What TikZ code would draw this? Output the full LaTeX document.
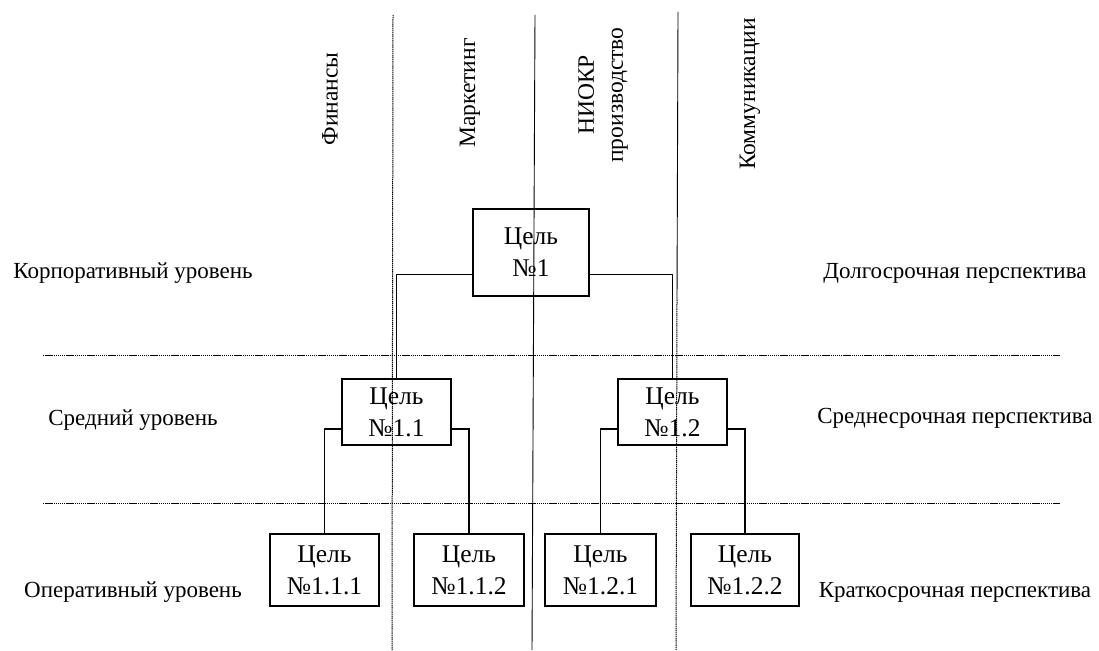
\documentclass[tikz,border=0pt]{standalone}
\usepackage{fontspec}
\setmainfont{Liberation Serif}
\usetikzlibrary{positioning}

\begin{document}
\begin{tikzpicture}[x=1pt, y=-1pt,
	goal/.style={draw, line width=2pt, align=center, inner sep=0pt, font=\fontsize{25.5}{32}\selectfont},
	lbl/.style={font=\fontsize{23}{27}\selectfont},
	head/.style={rotate=90, align=center, font=\fontsize{23.5}{29}\selectfont},
	guide/.style={line width=1pt, dash pattern=on 1.4pt off 0.7pt},
	link/.style={line width=1.8pt}]
	\useasboundingbox (0,0) rectangle (1099,650);
	\draw [guide] (43,355) -- (1060,355) (43,503) -- (1060,503);
	\draw [guide] (393,15) -- (392,650);
	\draw [line width=0.9pt] (678,12) -- (677,300);
	\draw [guide] (677,300) -- (676,650);
	\draw [line width=0.9pt] (535,15) -- (532,650);
	\node [head] (fin) at (330,99) {Финансы};
	\node [head] (mark) at (470,93) {Маркетинг};
	\node [head] (niokr) at (603,95) {НИОКР\\производство};
	\node [head] (comm) at (750,94) {Коммуникации};
	\node [lbl] (corp) at (133,273) {Корпоративный уровень};
	\node [lbl] (mid) at (133,420) {Средний уровень};
	\node [lbl] (oper) at (133,592) {Оперативный уровень};
	\node [lbl] (long) at (955,273) {Долгосрочная перспектива};
	\node [lbl] (midt) at (955,418) {Среднесрочная перспектива};
	\node [lbl] (short) at (955,592) {Краткосрочная перспектива};
	\node [goal, minimum width=116pt, minimum height=87pt] (g1) at (531,252.5) {Цель\\№1};
	\node [goal, minimum width=109pt, minimum height=66pt] (g11) at (396.5,412) {Цель\\№1.1};
	\node [goal, minimum width=109pt, minimum height=66pt] (g12) at (672.5,412) {Цель\\№1.2};
	\node [goal, minimum width=109pt, minimum height=72pt] (g111) at (324.5,570) {Цель\\№1.1.1};
	\node [goal, minimum width=110pt, minimum height=72pt] (g112) at (469,570) {Цель\\№1.1.2};
	\node [goal, minimum width=111pt, minimum height=72pt] (g121) at (600.5,570) {Цель\\№1.2.1};
	\node [goal, minimum width=108pt, minimum height=72pt] (g122) at (745,570) {Цель\\№1.2.2};
	\draw [link] ([yshift=-22pt]g1.west) -| (g11.north);
	\draw [link] ([yshift=-22pt]g1.east) -| (g12.north);
	\draw [link] ([yshift=-17pt]g11.west) -| (g111.north);
	\draw [link] ([yshift=-17pt]g11.east) -| (g112.north);
	\draw [link] ([yshift=-17pt]g12.west) -| (g121.north);
	\draw [link] ([yshift=-17pt]g12.east) -| (g122.north);
\end{tikzpicture}
\end{document}
